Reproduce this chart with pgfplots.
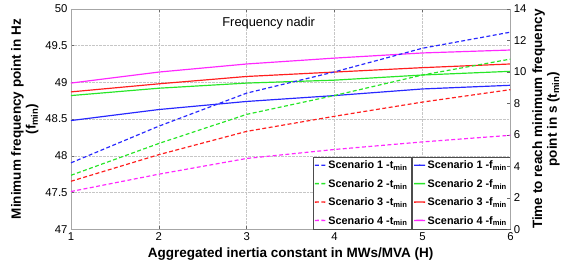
\documentclass[border=0pt]{standalone}
\usepackage{fontspec}
\setmainfont{Liberation Sans}
\usepackage{pgfplots}
\pgfplotsset{compat=1.18}
\definecolor{cBlue}{RGB}{40,40,255}
\definecolor{cGreen}{RGB}{40,230,40}
\definecolor{cRed}{RGB}{255,30,30}
\definecolor{cMag}{RGB}{255,40,255}
\pgfplotsset{
  common/.style={
    scale only axis, width=446pt, height=223.7pt,
    xmin=1, xmax=6,
    tick align=inside, major tick length=3.5pt,
    tick style={gray!80!black, line width=0.5pt},
    axis line style={gray!70},
    tick label style={font=\fontsize{11.5}{12}\selectfont},
    /pgf/number format/assume math mode=true,
    label style={font=\fontsize{13.7}{15}\selectfont\bfseries, align=center},
    legend style={font=\fontsize{11}{12}\selectfont\bfseries, draw=gray!60!black, fill=white,
      inner sep=1.5pt, row sep=5.2pt, cells={anchor=west}},
    legend image code/.code={\draw[##1, line width=1.4pt] (0pt,0.5pt) -- (5.5pt,0.62pt) -- (11pt,0.5pt);},
  },
  sl/.style={line width=1.2pt},
  dl/.style={line width=1.2pt, dash pattern=on 4pt off 2.5pt},
}
\begin{document}
\begin{tikzpicture}
\begin{axis}[common,
  ymin=47, ymax=50, ytick={47,47.5,48,48.5,49,49.5,50},
  xtick={1,2,3,4,5,6},
  ytick pos=left,
  grid=major, grid style={densely dotted, gray!45, line width=0.5pt},
  xlabel={Aggregated inertia constant in MWs/MVA (H)},
  xlabel style={at={(axis description cs:0.5,-0.068)}, anchor=north},
  ylabel={Minimum frequency point in Hz\\(f\textsubscript{min})},
  ylabel style={at={(axis description cs:-0.066,0.5)}, anchor=south},
  legend style={at={(rel axis cs:1,0)}, anchor=south east},
]
\addplot[cBlue, sl] coordinates {(1,48.48) (2,48.63) (3,48.74) (4,48.82) (5,48.91) (6,48.96)};
\addlegendentry{Scenario 1 -f\textsubscript{min}}
\addplot[cGreen, sl] coordinates {(1,48.82) (2,48.92) (3,48.99) (4,49.03) (5,49.10) (6,49.15)};
\addlegendentry{Scenario 2 -f\textsubscript{min}}
\addplot[cRed, sl] coordinates {(1,48.87) (2,48.98) (3,49.08) (4,49.14) (5,49.20) (6,49.25)};
\addlegendentry{Scenario 3 -f\textsubscript{min}}
\addplot[cMag, sl] coordinates {(1,48.99) (2,49.14) (3,49.25) (4,49.33) (5,49.40) (6,49.44)};
\addlegendentry{Scenario 4 -f\textsubscript{min}}
\node[font=\fontsize{13}{14}\selectfont] at (rel axis cs:0.45,0.937) {Frequency nadir};
\end{axis}
\begin{axis}[common,
  ymin=0, ymax=14, ytick={0,2,4,6,8,10,12,14},
  axis y line*=right, axis x line=none,
  ylabel={Time to reach minimum frequency\\point in s (t\textsubscript{min})},
  ylabel style={at={(axis description cs:1.042,0.5)}, anchor=north},
  legend style={at={(rel axis cs:0.774,0)}, anchor=south east},
]
\addplot[cBlue, dl] coordinates {(1,4.22) (2,6.55) (3,8.65) (4,10.0) (5,11.5) (6,12.52)};
\addlegendentry{Scenario 1 -t\textsubscript{min}}
\addplot[cGreen, dl] coordinates {(1,3.43) (2,5.45) (3,7.3) (4,8.5) (5,9.8) (6,10.81)};
\addlegendentry{Scenario 2 -t\textsubscript{min}}
\addplot[cRed, dl] coordinates {(1,3.05) (2,4.74) (3,6.22) (4,7.18) (5,8.08) (6,8.87)};
\addlegendentry{Scenario 3 -t\textsubscript{min}}
\addplot[cMag, dl] coordinates {(1,2.40) (2,3.5) (3,4.5) (4,5.07) (5,5.55) (6,5.97)};
\addlegendentry{Scenario 4 -t\textsubscript{min}}
\end{axis}
\path (current axis.south west) ++(-72pt,-34.3pt) rectangle ++(563pt,267pt);
\end{tikzpicture}
\end{document}
